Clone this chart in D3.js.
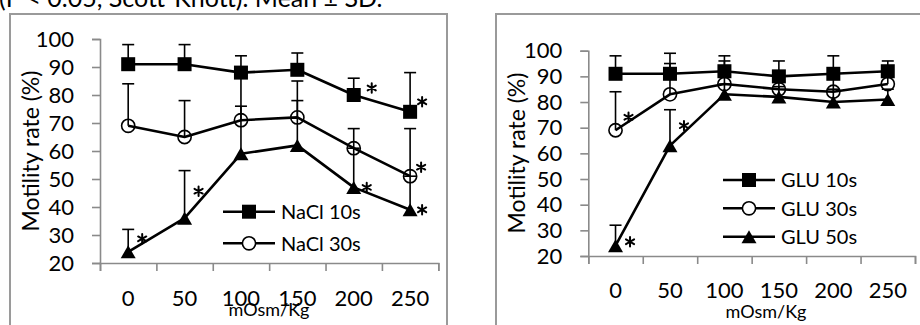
<!DOCTYPE html>
<html>
<head>
<meta charset="utf-8">
<script src="https://cdn.jsdelivr.net/npm/d3@7"></script>
<style>
  html, body { margin: 0; padding: 0; background: #fff; }
  svg { display: block; font-family: Lato, "Open Sans", sans-serif; }
</style>
</head>
<body>
<svg id="chart" width="920" height="325"></svg>
<script>
// Osmolality levels (mOsm/Kg)
const categories = ["0", "50", "100", "150", "200", "250"];
const yTicks = [20, 30, 40, 50, 60, 70, 80, 90, 100];

// NaCl: mean motility (%) and +SD
const nacl10 = [91, 91, 88, 89, 80, 74];
const nacl10Sd = [7, 7, 6, 6, 6, 14];
const nacl30 = [69, 65, 71, 72, 61, 51];
const nacl30Sd = [15, 13, 5, 6, 7, 17];
const nacl50 = [24, 36, 59, 62, 47, 39];
const nacl50Sd = [8, 17, 28, 23, 14, 12];

// Glucose: mean motility (%) and +SD
const glu10 = [91, 91, 92, 90, 91, 92];
const glu10Sd = [7, 8, 6, 6, 7, 4];
const glu30 = [69, 83, 87, 85, 84, 87];
const glu30Sd = [15, 12, 9, 4, 5, 4];
const glu50 = [24, 63, 83, 82, 80, 81];
const glu50Sd = [8, 14, 4, 4, 5, 4];

// Significant differences (Scott-Knott, P < 0.05)
const nacl10Sig = [0, 0, 0, 0, 1, 1];
const nacl30Sig = [0, 0, 0, 0, 0, 1];
const nacl50Sig = [1, 1, 0, 0, 1, 1];
const glu10Sig = [0, 0, 0, 0, 0, 0];
const glu30Sig = [1, 0, 0, 0, 0, 0];
const glu50Sig = [1, 1, 0, 0, 0, 0];

const caption = "(P < 0.05, Scott-Knott). Mean \u00B1 SD.";
const xTitle = "mOsm/Kg";
const yTitle = "Motility rate (%)";

// ---- layout / styling ----
const svg = d3.select("#chart");
const FONT_TICK = 22, FONT_LEG = 20, FONT_XT = 18, FONT_YT = 23;
const AXIS_GREY = "#8a8a8a";
const starPath = d3.symbol(d3.symbolAsterisk, 62)();

svg.append("text")
  .attr("x", -1).attr("y", 7)
  .attr("font-size", 25).attr("fill", "#000")
  .text(caption);

const panels = [
  {
    frame: { x: 10, y: 14, w: 437, h: 340 },
    x0: 100, x1: 438.3, yTop: 39, yBot: 263,
    xLabelGap: 43, xTitlePos: [269, 316], yTitlePos: [39, 151],
    series: [
      { name: "NaCl 10s", vals: nacl10, sd: nacl10Sd, sig: nacl10Sig, shape: "square",
        star: [null, null, null, null, [18, -7], [12, -10]] },
      { name: "NaCl 30s", vals: nacl30, sd: nacl30Sd, sig: nacl30Sig, shape: "circle",
        star: [null, null, null, null, null, [11, -9]] },
      { name: "NaCl 50s", vals: nacl50, sd: nacl50Sd, sig: nacl50Sig, shape: "triangle",
        star: [[14, -13], [14, -27], null, null, [13, 0], [12, 0]] }
    ],
    legend: { items: [0, 1], x0: 223, x1: 275, tx: 281, rows: [211.7, 243.3] }
  },
  {
    frame: { x: 496, y: 14, w: 440, h: 340 },
    x0: 588.3, x1: 915, yTop: 50.7, yBot: 256,
    xLabelGap: 42, xTitlePos: [766, 318], yTitlePos: [525, 153],
    series: [
      { name: "GLU 10s", vals: glu10, sd: glu10Sd, sig: glu10Sig, shape: "square", star: [] },
      { name: "GLU 30s", vals: glu30, sd: glu30Sd, sig: glu30Sig, shape: "circle",
        star: [[13, -13]] },
      { name: "GLU 50s", vals: glu50, sd: glu50Sd, sig: glu50Sig, shape: "triangle",
        star: [[14.5, -4], [14, -20]] }
    ],
    legend: { items: [0, 1, 2], x0: 723, x1: 775, tx: 781, rows: [180, 208.3, 236.7] }
  }
];

function drawMarker(g, shape, cx, cy, legend) {
  if (shape === "square") {
    g.append("rect").attr("x", cx - 7).attr("y", cy - 7)
      .attr("width", 14).attr("height", 14).attr("fill", "#000");
  } else if (shape === "circle") {
    g.append("circle").attr("cx", cx).attr("cy", cy).attr("r", 6.6)
      .attr("fill", legend ? "#fff" : "none").attr("stroke", "#000").attr("stroke-width", 1.6);
  } else {
    g.append("path")
      .attr("d", `M${cx - 7.5},${cy + 6.5}L${cx},${cy - 6.5}L${cx + 7.5},${cy + 6.5}Z`)
      .attr("fill", "#000");
  }
}

panels.forEach(p => {
  const g = svg.append("g");

  g.append("rect")
    .attr("x", p.frame.x).attr("y", p.frame.y)
    .attr("width", p.frame.w).attr("height", p.frame.h)
    .attr("fill", "none").attr("stroke", "#9a9a9a").attr("stroke-width", 2);

  const x = d3.scaleBand().domain(categories).range([p.x0, p.x1]);
  const y = d3.scaleLinear().domain([20, 100]).range([p.yBot, p.yTop]);
  const cx = c => x(c) + x.bandwidth() / 2;

  // y axis
  const yAxis = g.append("g").attr("transform", `translate(${p.x0},0)`)
    .call(d3.axisLeft(y).tickValues(yTicks).tickSize(8).tickSizeOuter(8).tickPadding(18));
  // x axis (ticks at category boundaries)
  const bounds = categories.map(c => x(c)).concat([p.x1]);
  const xAxis = g.append("g").attr("transform", `translate(0,${p.yBot})`)
    .call(d3.axisBottom(d3.scaleLinear().domain([p.x0, p.x1]).range([p.x0, p.x1]))
      .tickValues(bounds).tickSize(8).tickFormat(""));
  [yAxis, xAxis].forEach(a => {
    a.select(".domain").attr("stroke", AXIS_GREY).attr("stroke-width", 1.6);
    a.selectAll(".tick line").attr("stroke", AXIS_GREY).attr("stroke-width", 1.6);
  });
  yAxis.selectAll(".tick text")
    .attr("font-size", FONT_TICK).attr("font-family", "Lato").attr("fill", "#000");

  // category labels
  g.selectAll(".xlab").data(categories).enter().append("text")
    .attr("x", d => cx(d)).attr("y", p.yBot + p.xLabelGap)
    .attr("text-anchor", "middle").attr("font-size", FONT_TICK).attr("fill", "#000")
    .text(d => d);

  g.append("text")
    .attr("x", p.xTitlePos[0]).attr("y", p.xTitlePos[1])
    .attr("text-anchor", "middle").attr("font-size", FONT_XT).attr("fill", "#000")
    .text(xTitle);

  g.append("text")
    .attr("transform", `translate(${p.yTitlePos[0]},${p.yTitlePos[1]}) rotate(-90)`)
    .attr("text-anchor", "middle").attr("font-size", FONT_YT).attr("fill", "#000")
    .text(yTitle);

  const line = d3.line().x((d, i) => cx(categories[i])).y(d => y(d));

  p.series.forEach(s => {
    g.append("path").datum(s.vals).attr("d", line)
      .attr("fill", "none").attr("stroke", "#000").attr("stroke-width", 2.6)
      .attr("stroke-linejoin", "round");
  });

  p.series.forEach(s => {
    s.vals.forEach((v, i) => {
      const xc = cx(categories[i]);
      const top = y(v + s.sd[i]);
      g.append("line").attr("x1", xc).attr("x2", xc).attr("y1", y(v)).attr("y2", top)
        .attr("stroke", "#000").attr("stroke-width", 1.6);
      g.append("line").attr("x1", xc - 6).attr("x2", xc + 6).attr("y1", top).attr("y2", top)
        .attr("stroke", "#000").attr("stroke-width", 1.6);
    });
  });

  p.series.forEach(s => {
    s.vals.forEach((v, i) => drawMarker(g, s.shape, cx(categories[i]), y(v), false));
  });

  // significance asterisks
  p.series.forEach(s => {
    s.vals.forEach((v, i) => {
      if (!s.sig[i]) return;
      const off = s.star[i] || [13, -8];
      g.append("path")
        .attr("d", starPath)
        .attr("transform", `translate(${cx(categories[i]) + off[0]},${y(v) + off[1]})`)
        .attr("fill", "none").attr("stroke", "#000").attr("stroke-width", 2)
        .attr("stroke-linecap", "round");
    });
  });

  // legend
  p.legend.items.forEach((k, j) => {
    const s = p.series[k];
    const ry = p.legend.rows[j];
    g.append("line").attr("x1", p.legend.x0).attr("x2", p.legend.x1)
      .attr("y1", ry).attr("y2", ry).attr("stroke", "#000").attr("stroke-width", 2.6);
    drawMarker(g, s.shape, (p.legend.x0 + p.legend.x1) / 2, ry, true);
    g.append("text").attr("x", p.legend.tx).attr("y", ry).attr("dy", "0.36em")
      .attr("font-size", FONT_LEG).attr("fill", "#000").text(s.name);
  });
});
</script>
</body>
</html>
